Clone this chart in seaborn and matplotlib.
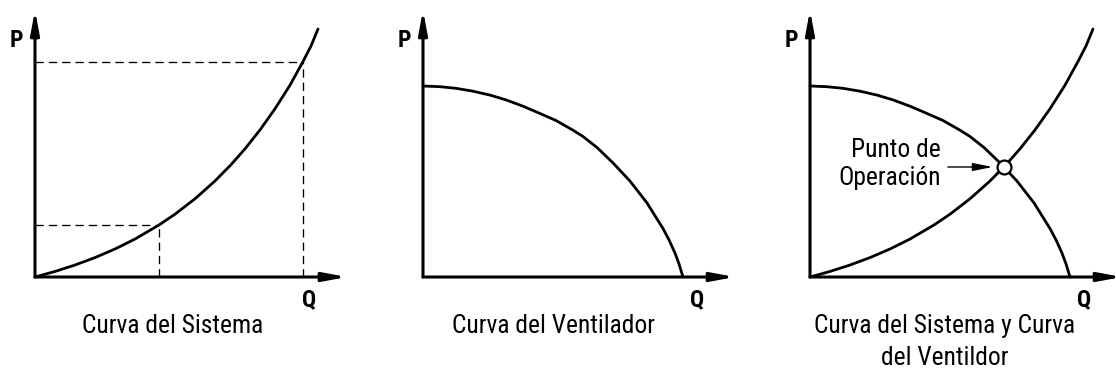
import pandas as pd
import matplotlib
matplotlib.use("Agg")
import matplotlib.pyplot as plt
from matplotlib import font_manager
import seaborn as sns

# ---- data (Q = caudal, P = presión, arbitrary units) ----
sistema_q = [0.000, 0.641, 1.282, 1.923, 2.564, 3.205, 3.974, 4.487, 5.128, 5.769,
             6.282, 6.731, 7.212, 7.692, 8.173, 8.590, 8.846, 9.071]
sistema_p = [0.000, 0.208, 0.448, 0.727, 1.049, 1.421, 1.948, 2.352, 2.929, 3.596,
             4.206, 4.801, 5.509, 6.300, 7.184, 8.071, 8.652, 9.288]

ventilador_q = [0.000, 0.545, 1.058, 1.603, 2.147, 2.660, 3.205, 3.750, 4.263, 4.808,
                5.128, 5.577, 6.090, 6.635, 7.179, 7.692, 7.885, 8.077, 8.205, 8.333]
ventilador_p = [7.154, 7.127, 7.067, 6.959, 6.813, 6.633, 6.397, 6.124, 5.861, 5.498,
                5.262, 4.850, 4.273, 3.592, 2.775, 1.816, 1.390, 0.895, 0.491, 0.000]

# points on the system curve marked with dashed guides (indices into sistema_*)
guia_idx = [6, 15]

# operating point (intersection of both curves)
op_q, op_p = 6.21, 4.12

titulos = ["Curva del Sistema", "Curva del Ventilador", "Curva del Sistema y Curva\ndel Ventildor"]
etiqueta_op = ["Punto de", "Operación"]
eje_x, eje_y = "Q", "P"

sns.set_theme(style="white")

# prefer a narrow sans-serif face for the captions
fonts = font_manager.fontManager.ttflist
names = {f.name for f in fonts}
narrow = None
for cand in ["Liberation Sans Narrow", "Arial Narrow", "Roboto Condensed",
             "Noto Sans Condensed", "Open Sans Condensed", "Noto Sans Display Condensed"]:
    if cand in names:
        narrow = cand
        break
stretch = "normal"
if narrow is None:
    for f in fonts:
        if f.name in ("Roboto", "Noto Sans", "Open Sans", "Inter", "Lato") and \
                str(f.stretch) in ("condensed", "semi-condensed", "extra-condensed"):
            narrow, stretch = f.name, str(f.stretch)
            break
if narrow is None:
    family, fs_txt, fs_lbl = "Liberation Sans", 16.3, 15.5
else:
    family, fs_txt, fs_lbl = narrow, 18.4, 17

plt.rcParams["font.family"] = [family, "DejaVu Sans"]
plt.rcParams["font.stretch"] = stretch
plt.rcParams["text.color"] = "black"

W, H = 1116, 372
fig = plt.figure(figsize=(W / 100, H / 100), dpi=100)
fig.patch.set_facecolor("white")

px_q, px_p = 31.2, 26.7           # pixels per data unit
origins = [35, 423, 810]          # x pixel of each panel origin
oy = 277                          # y pixel of the Q axis


def make_ax(ox):
    ax = fig.add_axes([(ox - 35) / W, 0, 372 / W, 1])
    ax.set_xlim(-35 / px_q, 337 / px_q)
    ax.set_ylim(-(H - oy) / px_p, oy / px_p)
    ax.axis("off")
    ax.patch.set_alpha(0)
    return ax


def draw_axes(ax):
    arrow = dict(arrowstyle="-|>,head_length=14,head_width=2.6", mutation_scale=1,
                 lw=2.2, color="black", shrinkA=0, shrinkB=0)
    ax.annotate("", xy=(10, 0), xytext=(0, 0), arrowprops=arrow, annotation_clip=False)
    ax.annotate("", xy=(0, 10), xytext=(0, 0), arrowprops=arrow, annotation_clip=False)
    ax.text(-0.59, 8.61, eje_y, fontsize=fs_lbl, fontweight="bold", ha="center", va="baseline")
    ax.text(8.80, -1.10, eje_x, fontsize=fs_lbl, fontweight="bold", ha="center", va="baseline")


sis = pd.DataFrame({"Q": sistema_q, "P": sistema_p})
ven = pd.DataFrame({"Q": ventilador_q, "P": ventilador_p})
dash = (0, (6.3, 3.8))

# Panel 1: system curve with dashed guides
ax1 = make_ax(origins[0])
for i in guia_idx:
    q, p = sistema_q[i], sistema_p[i]
    ax1.plot([0, q], [p, p], color="black", lw=0.95, ls=dash)
    ax1.plot([q, q], [0, p], color="black", lw=0.95, ls=dash)
sns.lineplot(data=sis, x="Q", y="P", ax=ax1, color="black", linewidth=2.0)
draw_axes(ax1)
ax1.text(4.41, -2.10, titulos[0], fontsize=fs_txt, ha="center", va="baseline")

# Panel 2: fan curve
ax2 = make_ax(origins[1])
sns.lineplot(data=ven, x="Q", y="P", ax=ax2, color="black", linewidth=2.0)
draw_axes(ax2)
ax2.text(4.18, -2.10, titulos[1], fontsize=fs_txt, ha="center", va="baseline")

# Panel 3: both curves and the operating point
ax3 = make_ax(origins[2])
sns.lineplot(data=sis, x="Q", y="P", ax=ax3, color="black", linewidth=2.0)
sns.lineplot(data=ven, x="Q", y="P", ax=ax3, color="black", linewidth=2.0)
draw_axes(ax3)
ax3.plot([op_q], [op_p], marker="o", ms=10, mfc="white", mec="black", mew=1.6, zorder=5)
ax3.annotate("", xy=(op_q, op_p), xytext=(4.42, op_p),
             arrowprops=dict(arrowstyle="-|>,head_length=12,head_width=2.4", mutation_scale=1,
                             lw=1.0, color="black", shrinkA=0, shrinkB=8.0))
ax3.text(4.20, 4.49, etiqueta_op[0], fontsize=fs_txt, ha="right", va="baseline")
ax3.text(4.20, 3.46, etiqueta_op[1], fontsize=fs_txt, ha="right", va="baseline")
ax3.text(4.31, -3.30, titulos[2], fontsize=fs_txt, ha="center", va="baseline", linespacing=1.45)

fig.savefig("out.png", dpi=100, facecolor="white")
